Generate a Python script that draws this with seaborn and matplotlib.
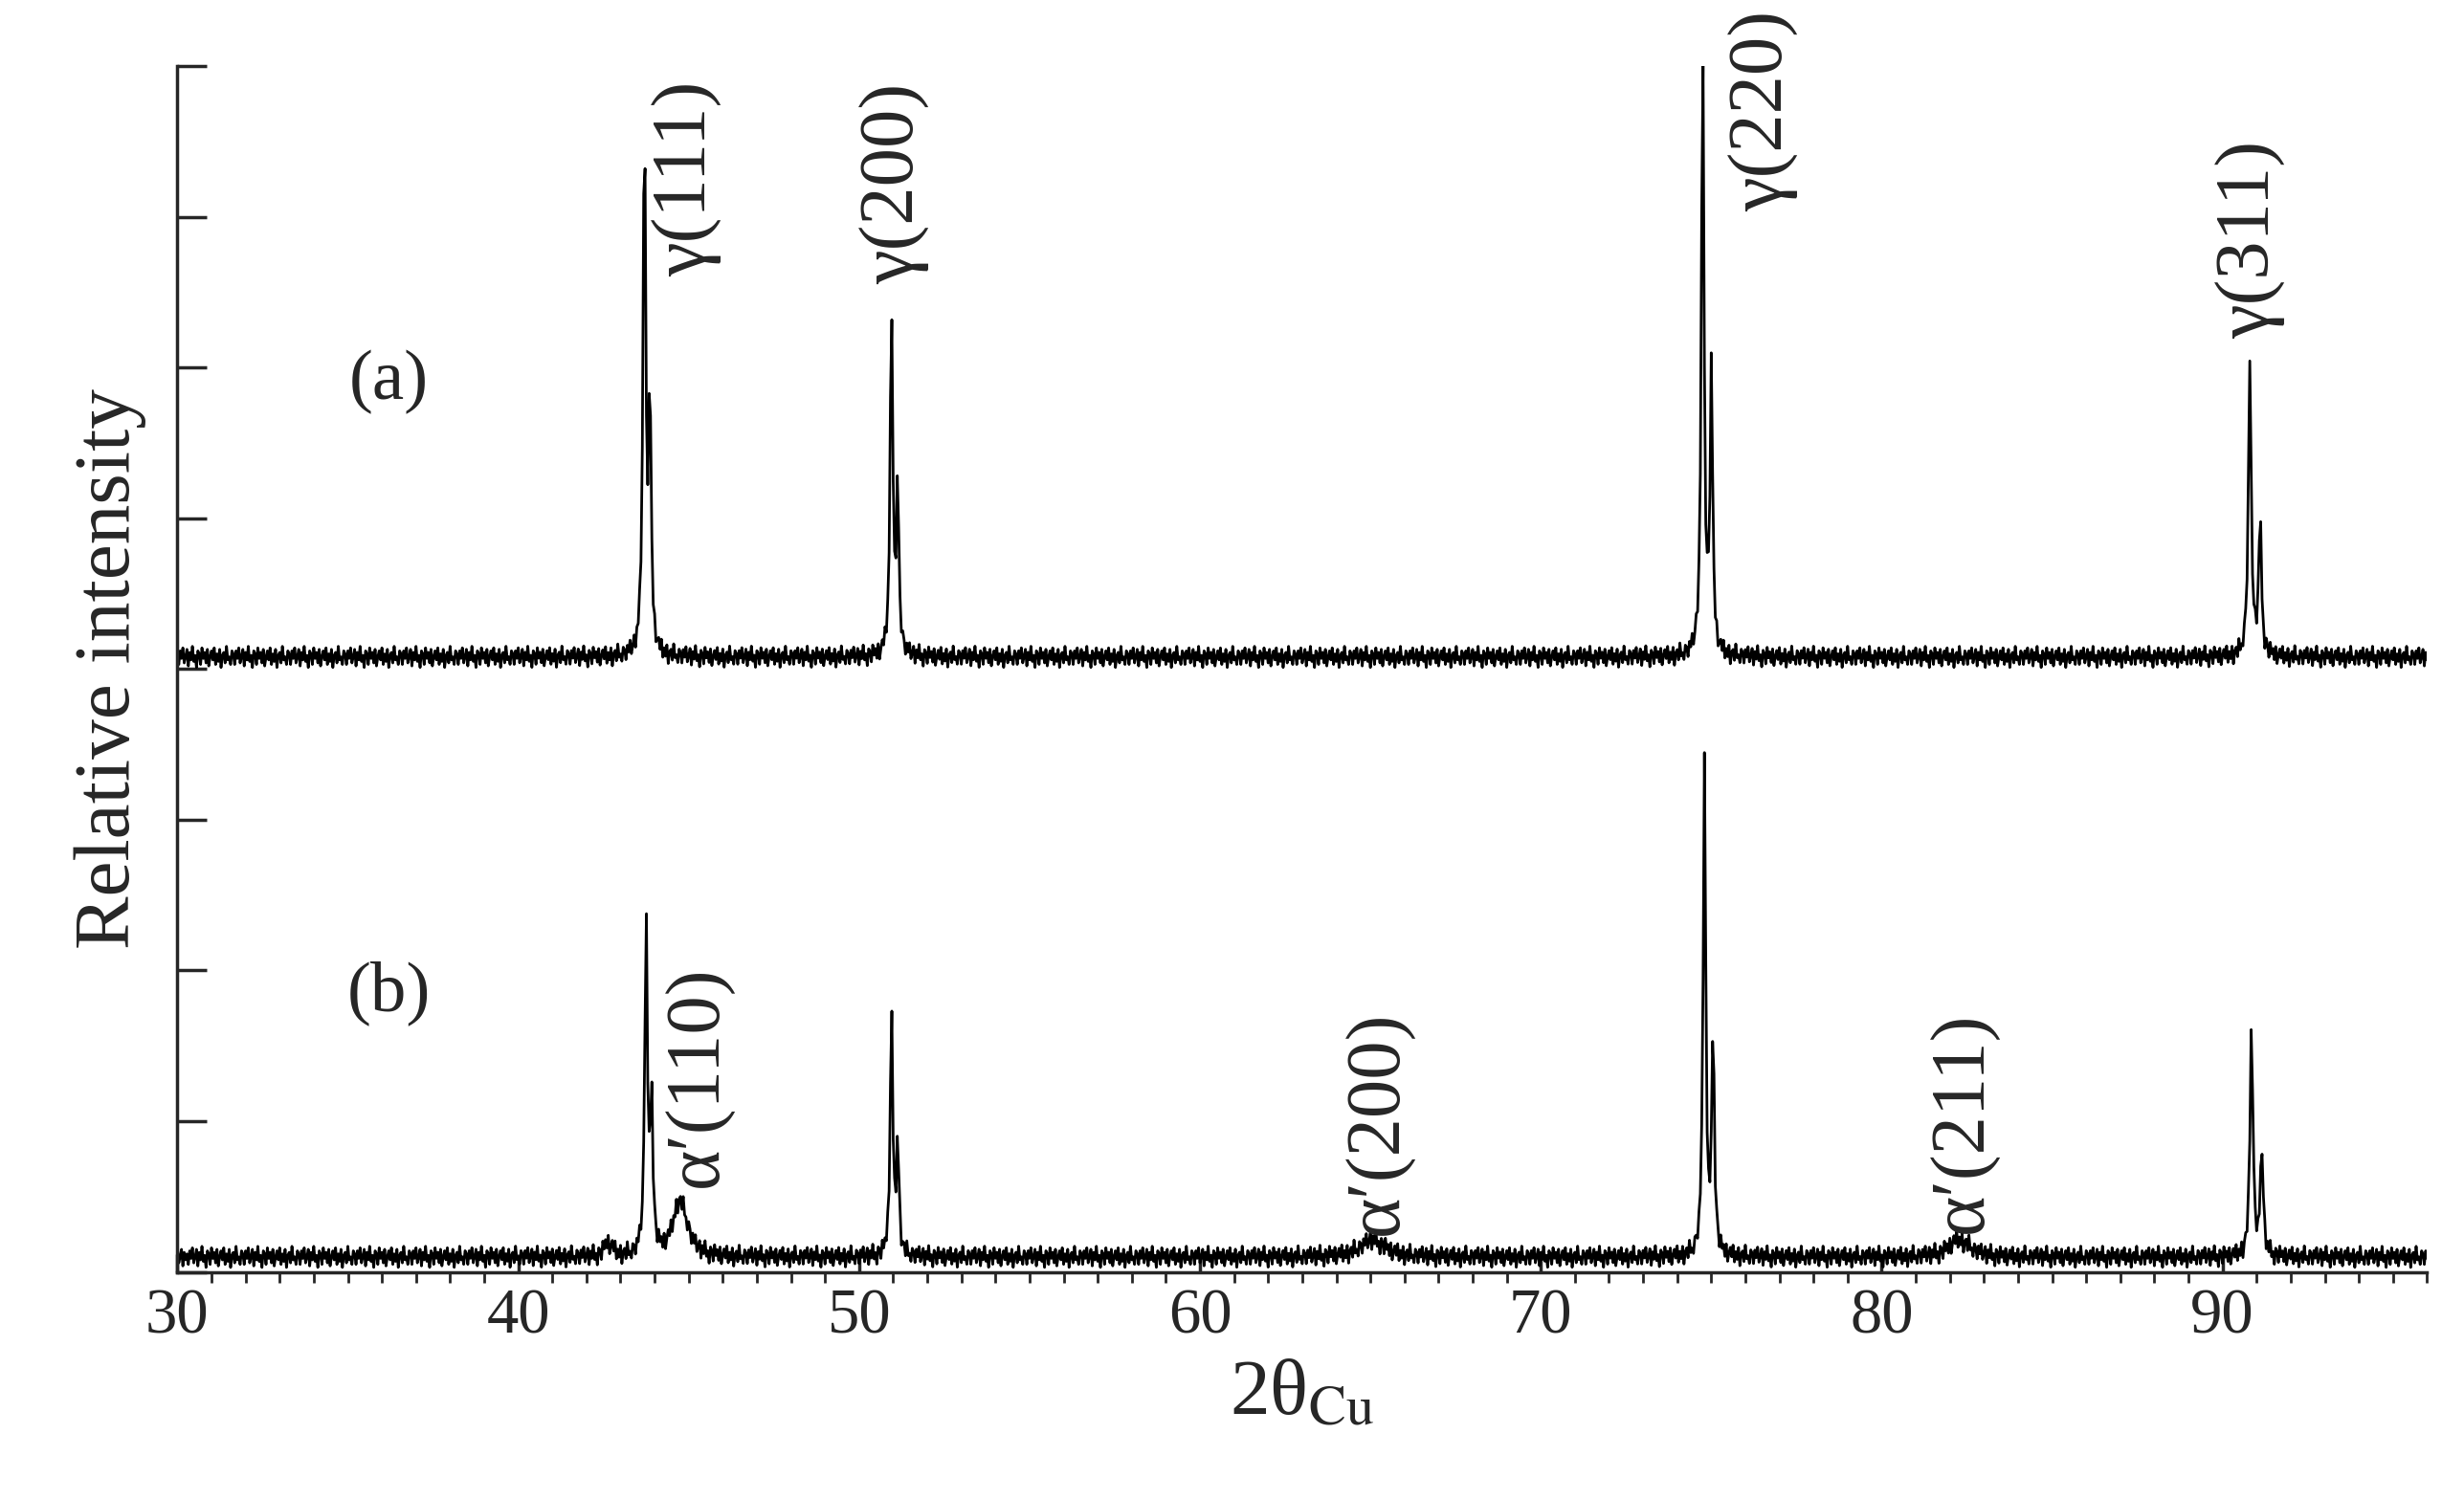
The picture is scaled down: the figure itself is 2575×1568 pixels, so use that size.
import numpy as np
import pandas as pd
import seaborn as sns
import matplotlib.pyplot as plt
from matplotlib.ticker import MultipleLocator

sns.set_style("ticks")
plt.rcParams['font.family'] = ['Liberation Serif', 'DejaVu Serif']
plt.rcParams['mathtext.fontset'] = 'stix'

# Peak tables: position (2theta), height, half-width
a_pos = [43.7, 50.95, 74.75, 90.8]
a_h = [3.65, 2.35, 4.1, 1.95]
a_w = [0.045, 0.045, 0.045, 0.05]
a_base = 4.08
b_pos = [42.6, 43.75, 44.7, 50.95, 65.0, 74.8, 82.2, 90.85]
b_h = [0.08, 2.25, 0.28, 1.62, 0.08, 3.3, 0.09, 1.55]
b_w = [0.1, 0.045, 0.22, 0.045, 0.4, 0.045, 0.3, 0.05]
b_base = 0.1
noise = [0.02, -0.05, 0.04, -0.01, 0.06, -0.04, 0.0, 0.05, -0.06, 0.03,
         -0.02, 0.07, -0.03, 0.01, -0.07, 0.04, 0.02, -0.05, 0.06, -0.01,
         0.03, -0.04, 0.05, -0.06, 0.0, 0.04, -0.02, 0.06, -0.05, 0.02,
         -0.03, 0.05, -0.07, 0.01, 0.03, -0.04, 0.07, -0.02, 0.0, -0.05, 0.04]
labels = ["γ(111)", "γ(200)", "γ(220)", "γ(311)", "α′(110)", "α′(200)", "α′(211)"]
lab_x = [44.98, 51.06, 76.55, 90.84, 45.3, 65.26, 82.4]
lab_y = [7.25, 7.22, 7.7, 6.85, 1.3, 0.99, 0.99]

x = np.arange(30, 96.01, 0.04)
nz = np.resize(np.array(noise), x.size)

def pattern(pos, h, w, base, nz):
    y = base + nz
    for p, hh, ww in zip(pos, h, w):
        y = y + hh / (1 + ((x - p) / ww) ** 2)
        p2 = p + 0.15 + 0.003 * (p - 40)
        y = y + 0.45 * hh / (1 + ((x - p2) / ww) ** 2)
    return y

df = pd.concat([
    pd.DataFrame({"x": x, "y": pattern(a_pos, a_h, a_w, a_base, nz), "s": "a"}),
    pd.DataFrame({"x": x, "y": pattern(b_pos, b_h, b_w, b_base, np.roll(nz, 7)), "s": "b"}),
])

fig = plt.figure(figsize=(25.75, 15.68), dpi=100)
ax = fig.add_axes([0.072, 0.152, 0.913, 0.804])
sns.lineplot(data=df, x="x", y="y", units="s", estimator=None, color="black",
             lw=2.0, ax=ax, legend=False)
ax.set_xlim(30, 96)
ax.set_ylim(0, 8)
ax.xaxis.set_major_locator(MultipleLocator(10))
ax.xaxis.set_minor_locator(MultipleLocator(1))
ax.yaxis.set_major_locator(MultipleLocator(1))
ax.set_yticklabels([])
ax.tick_params(direction='in', width=2.5, labelsize=48)
ax.tick_params(axis='x', which='major', length=14, pad=12)
ax.tick_params(axis='x', which='minor', length=8, width=2)
ax.tick_params(axis='y', length=22)
for s in ['top', 'right']:
    ax.spines[s].set_visible(False)
for s in ['left', 'bottom']:
    ax.spines[s].set_linewidth(2.5)
ax.set_xlabel("2θ$_{\\mathrm{Cu}}$", fontsize=60, labelpad=10)
ax.set_ylabel("Relative intensity", fontsize=60, labelpad=20)
for t, lx, ly in zip(labels, lab_x, lab_y):
    ax.text(lx, ly, t, rotation=90, ha='center', va='center', fontsize=58)
ax.text(36.2, 5.9, "(a)", ha='center', va='center', fontsize=54)
ax.text(36.2, 1.85, "(b)", ha='center', va='center', fontsize=54)
fig.savefig("out.png", dpi=100)
